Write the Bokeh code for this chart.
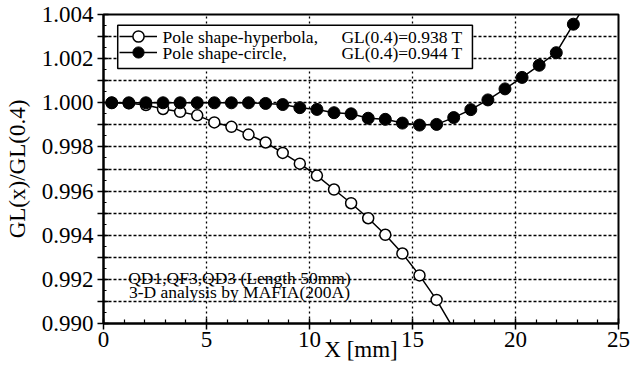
from bokeh.plotting import figure
from bokeh.models import (FixedTicker, Legend, LegendItem, Label, Range1d,
                          NumeralTickFormatter, BoxAnnotation)
from bokeh.embed import file_html
from bokeh.resources import INLINE

# ---- data ----
x_mm = [0.4, 1.23, 2.06, 2.89, 3.72, 4.55, 5.38, 6.21, 7.04, 7.87, 8.70, 9.53, 10.36, 11.19,
        12.02, 12.85, 13.68, 14.51, 15.34, 16.17, 17.0, 17.83, 18.66, 19.49, 20.32, 21.15,
        21.98, 22.81]

gl_circle = [1.00000, 1.00000, 1.00000, 1.00000, 1.00000, 1.00000, 1.00000, 1.00000, 1.00000,
             0.99997, 0.99992, 0.99978, 0.99970, 0.99955, 0.99950, 0.99930, 0.99925, 0.99908,
             0.99899, 0.99902, 0.99933, 0.99969, 1.00013, 1.00063, 1.00115, 1.00170, 1.00227,
             1.00356]

x_hyper = [0.4, 1.23, 2.06, 2.89, 3.72, 4.55, 5.38, 6.21, 7.04, 7.87, 8.70, 9.53, 10.36, 11.19,
           12.02, 12.85, 13.68, 14.51, 15.34, 16.17]
gl_hyper = [1.00000, 0.99998, 0.99990, 0.99972, 0.99959, 0.99943, 0.99911, 0.99891, 0.99856,
            0.99820, 0.99773, 0.99724, 0.99670, 0.99607, 0.99545, 0.99477, 0.99402, 0.99317,
            0.99218, 0.99107]

# fitted curves run on past the last computed point, off the plot edge
hyper_tail_x = [17.0]
hyper_tail_y = [0.98975]
circle_tail_x = [23.3]
circle_tail_y = [1.00432]

legend_labels = ["Pole shape-hyperbola,", "Pole shape-circle,"]
gl_texts = ["GL(0.4)=0.938 T", "GL(0.4)=0.944 T"]
note_lines = ["QD1,QF3,QD3 (Length 50mm)", "3-D analysis by MAFIA(200A)"]
x_title = "X [mm]"
y_title = "GL(x)/GL(0.4)"

x_major_ticks = [0, 5, 10, 15, 20, 25]
x_minor_ticks = [1, 2, 3, 4, 6, 7, 8, 9, 11, 12, 13, 14, 16, 17, 18, 19, 21, 22, 23, 24]
y_major_ticks = [0.990, 0.991, 0.992, 0.993, 0.994, 0.995, 0.996, 0.997, 0.998, 0.999,
                 1.000, 1.001, 1.002, 1.003, 1.004]
y_tick_labels = ["0.990", "", "0.992", "", "0.994", "", "0.996", "", "0.998", "",
                 "1.000", "", "1.002", "", "1.004"]
y_minor_ticks = [0.9905, 0.9915, 0.9925, 0.9935, 0.9945, 0.9955, 0.9965, 0.9975, 0.9985,
                 0.9995, 1.0005, 1.0015, 1.0025, 1.0035]

FONT = "Liberation Serif"
SMALL = "17.5px"
BIG = "23px"

p = figure(width=632, height=368, x_range=Range1d(0, 25), y_range=Range1d(0.990, 1.004),
           output_backend="svg", toolbar_location=None,
           min_border_left=103, min_border_right=14, min_border_top=14, min_border_bottom=45)
p.background_fill_color = "white"
p.border_fill_color = "white"
p.outline_line_color = "black"
p.outline_line_width = 2
p.outline_line_alpha = 1

# axes
p.xaxis.ticker = FixedTicker(ticks=x_major_ticks, minor_ticks=x_minor_ticks)
p.yaxis.ticker = FixedTicker(ticks=y_major_ticks, minor_ticks=y_minor_ticks)
p.yaxis.formatter = NumeralTickFormatter(format="0.000")
p.yaxis.major_label_overrides = {t: s for t, s in zip(y_major_ticks, y_tick_labels)}
for ax in (p.xaxis[0], p.yaxis[0]):
    ax.axis_line_color = "black"
    ax.axis_line_width = 2
    ax.major_tick_line_color = "black"
    ax.minor_tick_line_color = "black"
    ax.major_tick_line_width = 1.5
    ax.minor_tick_line_width = 1.2
    ax.major_tick_in = 5
    ax.major_tick_out = 6
    ax.major_label_text_font = FONT
    ax.major_label_text_font_size = BIG
    ax.major_label_text_color = "black"
    ax.axis_label_text_font = FONT
    ax.axis_label_text_font_size = BIG
    ax.axis_label_text_font_style = "normal"
    ax.axis_label_text_color = "black"
p.xaxis.major_label_standoff = 2
p.yaxis.major_label_standoff = 4
p.xaxis.minor_tick_in = 4
p.xaxis.minor_tick_out = 0
p.yaxis.minor_tick_in = 3
p.yaxis.minor_tick_out = 0
p.xaxis.axis_label = x_title
p.xaxis.axis_label_standoff = -13
p.yaxis.axis_label = y_title
p.yaxis.axis_label_standoff = 9

# grids
p.xgrid.grid_line_color = "black"
p.xgrid.grid_line_dash = "2 3"
p.xgrid.grid_line_width = 1.3
p.ygrid.grid_line_color = "black"
p.ygrid.grid_line_dash = "3 2"
p.ygrid.grid_line_width = 1.3

# legend frame (white box above the grid)
p.add_layout(BoxAnnotation(left=0.69, right=17.91, top=1.003515, bottom=1.001553,
                           fill_color="white", fill_alpha=1, line_color="black",
                           line_width=1.5, line_alpha=1, level="underlay"))

# data
lh = p.line(x_hyper + hyper_tail_x, gl_hyper + hyper_tail_y, line_color="black", line_width=1.5)
sh = p.scatter(x_hyper, gl_hyper, marker="circle", size=11, fill_color="white",
               line_color="black", line_width=1.5)
lc = p.line(x_mm + circle_tail_x, gl_circle + circle_tail_y, line_color="black", line_width=1.5)
sc = p.scatter(x_mm, gl_circle, marker="circle", size=12, fill_color="black",
               line_color="black", line_width=1)

# legend samples (line + marker); their texts are drawn as labels below
for rends, loc in (([lh, sh], (16, 273)), ([lc, sc], (16, 257))):
    p.add_layout(Legend(items=[LegendItem(label=" ", renderers=rends)], location=loc,
                        glyph_width=38, glyph_height=28, padding=0, margin=0,
                        label_standoff=0, label_height=16, label_width=1,
                        label_text_font_size="1px",
                        border_line_alpha=0, background_fill_alpha=0))

row_y = [1.00299, 1.002265]
for txt, yy in zip(legend_labels, row_y):
    p.add_layout(Label(x=2.864, y=yy, text=txt, text_align="left", text_baseline="middle",
                       text_font=FONT, text_font_size=SMALL, text_color="black",
                       level="overlay"))
for txt, yy in zip(gl_texts, row_y):
    p.add_layout(Label(x=17.43, y=yy, text=txt, text_align="right", text_baseline="middle",
                       text_font=FONT, text_font_size=SMALL, text_color="black",
                       level="overlay"))

note_y = [0.992083, 0.991435]
for txt, yy in zip(note_lines, note_y):
    p.add_layout(Label(x=6.6, y=yy, text=txt, text_align="center", text_baseline="middle",
                       text_font=FONT, text_font_size=SMALL, text_color="black"))

open("out.html", "w").write(file_html(p, INLINE))
